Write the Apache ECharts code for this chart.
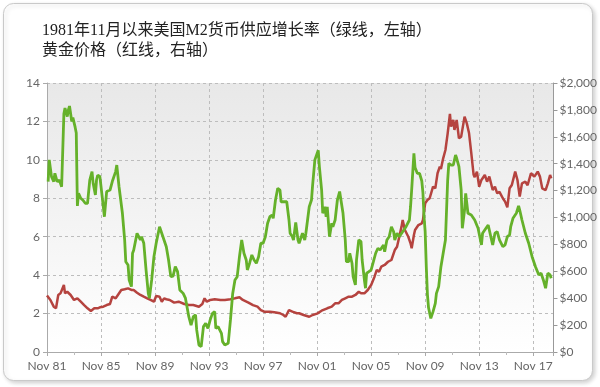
<!DOCTYPE html>
<html><head><meta charset="utf-8">
<script src="https://cdn.jsdelivr.net/npm/echarts@6/dist/echarts.min.js"></script>
<style>html,body{margin:0;padding:0;background:#fff}#c{width:600px;height:387px}</style>
</head><body><div id="c"></div>
<script>
// Title lines
const titleLines = ['1981年11月以来美国M2货币供应增长率（绿线，左轴）', '黄金价格（红线，右轴）'];
// x axis: months since Nov 1981, labels every 4 years
const xStart = '1981-11';
const xEnd = '2019-05';
// Left axis (M2 growth %) ticks
const leftTicks = [0, 2, 4, 6, 8, 10, 12, 14];
// Right axis (gold price, USD) ticks
const rightTicks = [0, 200, 400, 600, 800, 1000, 1200, 1400, 1600, 1800, 2000];

// M2 money supply growth rate (%), green line, left axis
const m2Dates = ['1981-12','1982-01','1982-03','1982-05','1982-06','1982-08','1982-10','1982-12','1983-01','1983-02','1983-03','1983-05','1983-06','1983-07','1983-09','1983-10','1983-12','1984-01','1984-02','1984-03','1984-05','1984-07','1984-09','1984-11','1985-01','1985-03','1985-04','1985-06','1985-07','1985-08','1985-10','1985-12','1986-02','1986-04','1986-07','1986-09','1986-12','1987-01','1987-03','1987-06','1987-08','1987-09','1987-11','1987-12','1988-02','1988-03','1988-04','1988-07','1988-08','1988-10','1988-11','1989-01','1989-03','1989-05','1989-06','1989-08','1989-10','1989-12','1990-03','1990-04','1990-06','1990-09','1990-11','1991-01','1991-03','1991-05','1991-07','1991-09','1991-12','1992-02','1992-05','1992-07','1992-09','1992-11','1992-12','1993-02','1993-04','1993-06','1993-08','1993-10','1993-12','1994-02','1994-04','1994-05','1994-07','1994-10','1994-11','1995-01','1995-04','1995-06','1995-08','1995-10','1995-12','1996-02','1996-04','1996-06','1996-08','1996-09','1996-11','1997-01','1997-03','1997-05','1997-07','1997-09','1997-11','1998-01','1998-03','1998-05','1998-07','1998-08','1998-10','1998-12','1999-02','1999-03','1999-06','1999-08','1999-10','1999-11','2000-01','2000-02','2000-04','2000-06','2000-07','2000-10','2000-12','2001-01','2001-04','2001-06','2001-07','2001-09','2001-10','2001-12','2002-01','2002-03','2002-04','2002-06','2002-07','2002-08','2002-10','2002-12','2003-01','2003-03','2003-05','2003-07','2003-08','2003-10','2003-12','2004-01','2004-03','2004-04','2004-06','2004-07','2004-09','2004-10','2004-12','2005-02','2005-03','2005-05','2005-06','2005-07','2005-09','2005-11','2006-01','2006-03','2006-05','2006-07','2006-10','2006-11','2007-01','2007-03','2007-05','2007-07','2007-08','2007-10','2007-12','2008-03','2008-06','2008-09','2008-10','2008-11','2009-01','2009-02','2009-04','2009-06','2009-08','2009-09','2009-10','2009-11','2009-12','2010-01','2010-02','2010-04','2010-06','2010-08','2010-09','2010-11','2011-01','2011-03','2011-05','2011-07','2011-08','2011-10','2011-12','2012-02','2012-03','2012-05','2012-07','2012-08','2012-10','2012-11','2013-01','2013-04','2013-07','2013-10','2014-01','2014-02','2014-05','2014-07','2014-09','2014-11','2015-01','2015-03','2015-05','2015-08','2015-10','2015-12','2016-02','2016-03','2016-05','2016-08','2016-10','2016-11','2017-01','2017-04','2017-07','2017-10','2018-01','2018-04','2018-06','2018-08','2018-10','2018-12','2019-02','2019-03'];
const m2Values = [8.87,10.0,9.13,8.87,9.3,8.87,8.95,8.6,8.6,12.4,12.7,12.25,12.6,12.8,12.0,12.2,11.7,11.4,7.6,8.26,8.0,7.9,7.74,7.74,8.95,9.39,8.78,8.17,8.95,9.2,9.13,8.1,7.04,8.35,8.43,8.87,9.39,9.73,8.6,7.22,5.83,4.7,4.53,3.75,3.4,5.14,5.3,6.18,6.26,5.83,6.0,5.66,4.27,3.05,2.8,3.75,4.96,5.66,6.52,6.56,6.0,5.48,4.79,3.92,3.95,4.44,4.18,3.23,3.05,2.8,1.84,1.4,1.84,1.93,1.15,0.36,0.28,1.32,1.49,1.23,1.67,2.01,2.1,1.23,1.32,0.97,0.54,0.36,0.45,1.67,3.05,3.75,3.92,4.96,5.83,5.14,4.79,4.27,4.62,5.05,4.79,4.62,4.96,5.66,5.66,6.0,6.7,7.04,7.13,6.96,7.91,8.52,8.43,7.82,7.82,7.82,6.87,6.18,6.0,5.83,6.75,5.83,5.66,6.18,5.83,6.18,7.56,7.91,8.69,10.0,9.9,10.5,9.65,8.43,7.22,7.56,7.04,7.56,6.0,6.7,6.52,6.87,7.91,8.35,8.35,7.22,5.83,4.7,4.7,5.14,4.62,3.92,3.49,4.79,5.83,5.74,4.79,3.75,3.32,4.1,4.18,4.27,4.7,5.14,5.4,5.31,5.57,5.22,5.83,6.0,6.52,6.26,5.83,6.18,6.0,6.26,6.52,6.87,7.56,8.43,10.34,9.6,9.3,9.3,8.9,8.3,7.04,6.26,4.44,3.0,2.3,1.75,2.1,2.53,3.05,3.4,4.44,5.14,5.83,8.95,9.82,9.73,9.73,10.25,10.08,9.65,8.43,6.44,7.39,8.26,7.22,7.13,6.87,6.44,5.57,6.18,6.44,6.61,6.09,5.57,6.18,6.26,5.83,5.48,5.57,6.0,6.09,6.52,6.96,7.22,7.6,7.39,6.87,6.18,5.66,4.96,4.44,4.01,4.1,3.75,3.32,4.1,4.01,3.84];

// Gold price (USD/oz), red line, right axis
const goldDates = ['1981-11','1982-02','1982-05','1982-07','1982-09','1982-11','1983-02','1983-03','1983-05','1983-08','1983-11','1984-02','1984-05','1984-08','1984-11','1985-02','1985-05','1985-08','1985-10','1986-01','1986-04','1986-07','1986-09','1986-12','1987-02','1987-05','1987-08','1987-11','1987-12','1988-02','1988-04','1988-07','1988-10','1989-01','1989-04','1989-07','1989-10','1989-12','1990-03','1990-05','1990-07','1990-09','1990-12','1991-04','1991-08','1992-01','1992-05','1992-09','1993-02','1993-05','1993-07','1993-09','1993-12','1994-04','1994-09','1995-01','1995-06','1995-10','1996-02','1996-05','1996-10','1997-02','1997-06','1997-09','1997-12','1998-05','1998-09','1999-02','1999-05','1999-07','1999-10','2000-01','2000-05','2000-07','2000-11','2001-04','2001-07','2001-11','2002-03','2002-08','2002-12','2003-03','2003-06','2003-09','2003-12','2004-03','2004-06','2004-09','2004-12','2005-02','2005-05','2005-08','2005-11','2006-02','2006-04','2006-06','2006-08','2006-11','2007-02','2007-05','2007-08','2007-10','2007-12','2008-02','2008-03','2008-05','2008-08','2008-10','2008-11','2009-01','2009-02','2009-05','2009-08','2009-09','2009-11','2010-01','2010-03','2010-06','2010-08','2010-10','2010-12','2011-01','2011-03','2011-05','2011-07','2011-09','2011-10','2011-12','2012-01','2012-03','2012-05','2012-07','2012-10','2012-12','2013-02','2013-04','2013-06','2013-07','2013-09','2013-11','2014-01','2014-04','2014-06','2014-08','2014-11','2015-01','2015-03','2015-05','2015-08','2015-10','2015-12','2016-02','2016-04','2016-07','2016-09','2016-11','2017-01','2017-04','2017-06','2017-09','2017-12','2018-03','2018-05','2018-07','2018-10','2018-12','2019-02','2019-03'];
const goldValues = [420,387,337,325,424,436,498,436,448,424,387,399,374,349,325,305,325,325,332,337,349,357,411,399,424,461,466,473,486,461,461,441,424,411,399,387,374,416,411,374,399,392,387,367,374,357,349,349,337,357,399,374,387,392,387,387,392,399,407,387,367,349,337,312,300,300,295,288,275,262,312,300,288,288,275,262,275,285,307,325,337,362,362,387,399,411,411,424,448,436,436,461,498,560,610,597,634,647,671,684,758,783,857,932,981,907,857,808,771,870,907,944,957,981,1106,1130,1143,1229,1217,1329,1378,1360,1440,1502,1626,1770,1675,1725,1651,1725,1589,1601,1750,1700,1626,1477,1320,1300,1341,1229,1279,1316,1266,1304,1204,1229,1180,1190,1143,1118,1075,1217,1242,1341,1279,1155,1254,1266,1240,1329,1304,1341,1304,1217,1204,1254,1316,1291];

function toIdx(s) { const p = s.split('-'); return (+p[0] - 1981) * 12 + (+p[1] - 11); }
function pairs(dates, vals) { return dates.map((d, i) => [toIdx(d), vals[i]]); }
function idxLabel(v) {
  if (v % 48 !== 0) return '';
  const y = 1981 + Math.floor((10 + v) / 12);
  return 'Nov ' + String(y % 100).padStart(2, '0');
}
function money(v) { return '$' + v.toLocaleString('en-US'); }

const axisFont = 'Lato, "Open Sans", sans-serif';
const titleFont = '16px "Liberation Serif", "Noto Sans CJK SC"';
const chart = echarts.init(document.getElementById('c'), null, { renderer: 'canvas' });
chart.setOption({
  animation: false,
  backgroundColor: '#ffffff',
  graphic: [
    { type: 'rect', z: -10, shape: { x: 3.5, y: 3.5, width: 589, height: 377, r: 10 },
      style: { fill: '#ffffff', stroke: '#c9c9c9', lineWidth: 1, shadowBlur: 4, shadowOffsetX: 2, shadowOffsetY: 2, shadowColor: 'rgba(0,0,0,0.18)' } },
    { type: 'text', left: 42, top: 23, style: { text: titleLines[0], font: titleFont, fill: '#222' } },
    { type: 'text', left: 42, top: 43, style: { text: titleLines[1], font: titleFont, fill: '#222' } }
  ],
  grid: {
    left: 47, right: 42, top: 83, bottom: 35, show: true, borderWidth: 0,
    backgroundColor: new echarts.graphic.LinearGradient(0, 0, 0, 1, [
      { offset: 0, color: '#e8e8e8' }, { offset: 1, color: '#ffffff' }
    ])
  },
  xAxis: {
    type: 'value', min: toIdx(xStart), max: toIdx(xEnd), interval: 48,
    axisLine: { show: true, lineStyle: { color: '#aaa' } },
    axisTick: { show: true, length: 4, lineStyle: { color: '#aaa' } },
    minorTick: { show: true, splitNumber: 2, length: 3, lineStyle: { color: '#bbb' } },
    axisLabel: { formatter: idxLabel, color: '#666', fontSize: 12, fontFamily: axisFont, margin: 8, showMaxLabel: false },
    splitLine: { show: true, lineStyle: { color: '#bdbdbd', type: [3, 3] } }
  },
  yAxis: [
    { type: 'value', min: leftTicks[0], max: leftTicks[leftTicks.length - 1], interval: 2,
      axisLine: { show: true, lineStyle: { color: '#aaa' } },
      axisTick: { show: true, length: 4, lineStyle: { color: '#aaa' } },
      axisLabel: { color: '#666', fontSize: 12, fontFamily: axisFont, margin: 7 },
      splitLine: { show: true, lineStyle: { color: '#bdbdbd', type: [3, 3] } } },
    { type: 'value', position: 'right', min: rightTicks[0], max: rightTicks[rightTicks.length - 1], interval: 200,
      axisLine: { show: true, lineStyle: { color: '#999' } },
      axisTick: { show: true, length: 4, lineStyle: { color: '#999' } },
      axisLabel: { color: '#666', fontSize: 12, fontFamily: axisFont, margin: 6, formatter: money },
      splitLine: { show: false } }
  ],
  series: [
    { name: '黄金价格', type: 'line', yAxisIndex: 1, showSymbol: false, data: pairs(goldDates, goldValues),
      lineStyle: { color: '#b5433f', width: 2.5 }, itemStyle: { color: '#b5433f' } },
    { name: 'M2增长率', type: 'line', yAxisIndex: 0, showSymbol: false, data: pairs(m2Dates, m2Values),
      lineStyle: { color: '#65b12a', width: 2.8 }, itemStyle: { color: '#65b12a' } }
  ]
});
</script></body></html>
